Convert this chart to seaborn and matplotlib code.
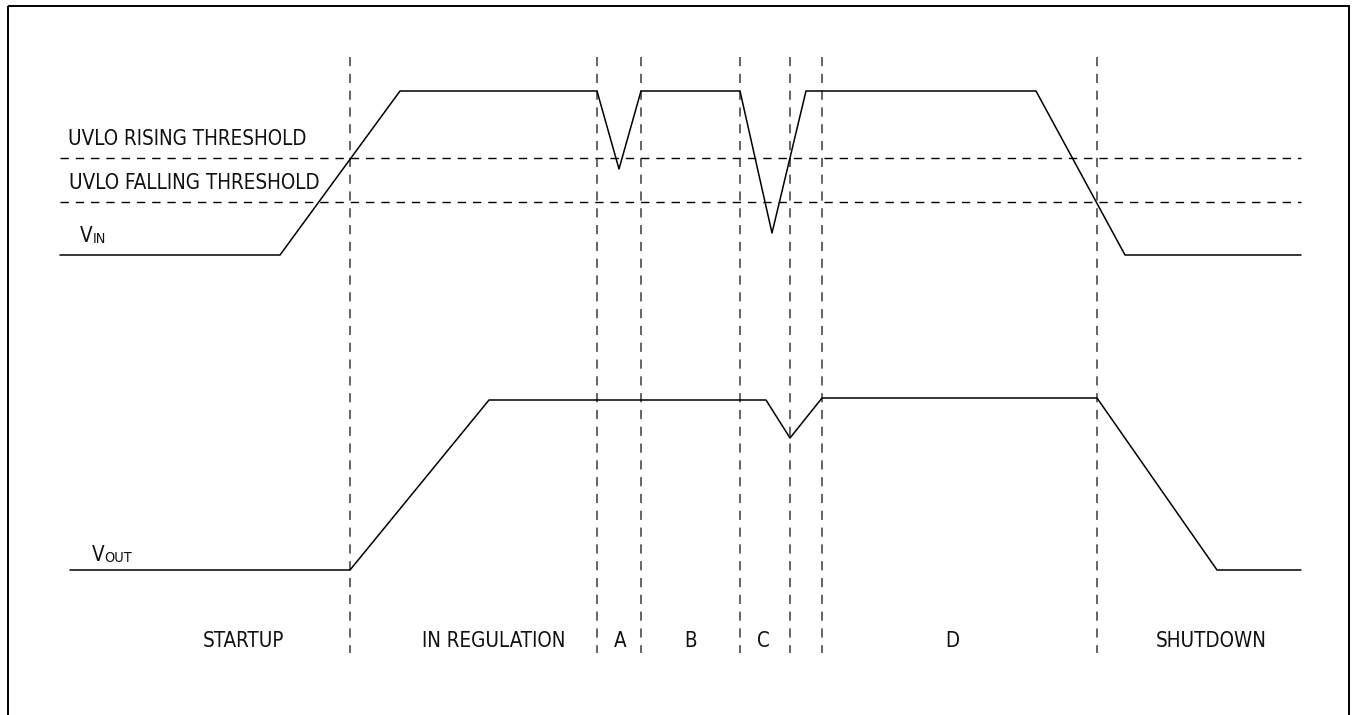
import matplotlib
matplotlib.use("Agg")
import matplotlib.pyplot as plt
from matplotlib.patches import Rectangle
from matplotlib.font_manager import FontProperties, fontManager
import seaborn as sns
import pandas as pd

sns.set_theme(style="white")

# ---- waveform data (time axis in drawing units, level in drawing units; y grows downward) ----
vin_t = [60, 280, 400, 597, 619, 641, 740, 772, 806, 1036, 1125, 1301]
vin_v = [255, 255, 91, 91, 169, 91, 91, 233, 91, 91, 255, 255]

vout_t = [70, 350, 489, 766, 790, 822, 1097, 1217, 1301]
vout_v = [570, 570, 400, 400, 438, 398, 398, 570, 570]

thresholds = [158, 202]                     # UVLO rising, UVLO falling
threshold_names = ["UVLO RISING THRESHOLD", "UVLO FALLING THRESHOLD"]
boundaries = [350, 597, 641, 740, 790, 822, 1097]   # region boundaries (time)
region_names = ["STARTUP", "IN REGULATION", "A", "B", "C", "D", "SHUTDOWN"]
region_centers = [243, 494, 620, 690, 763, 952, 1211]

# ---- pick a narrow sans font if one is installed ----
def pick_font():
    cands = []
    for f in fontManager.ttflist:
        n = f.name.lower()
        fn = f.fname.lower()
        if f.style != "normal" or f.weight not in (400, "normal", "regular"):
            continue
        if "mono" in n or "serif" in n and "sans" not in n:
            continue
        narrow = ("narrow" in n or "condensed" in n or "narrow" in fn or "condensed" in fn
                  or str(f.stretch) in ("condensed", "semi-condensed", "75", "87"))
        if narrow:
            score = 0 if "liberation" in n else (1 if "dejavu" in n else 2)
            cands.append((score, f.fname))
    if cands:
        cands.sort()
        return FontProperties(fname=cands[0][1])
    return FontProperties(family="Liberation Sans")

FP = pick_font()
plt.rcParams["font.family"] = [FP.get_name(), "DejaVu Sans"]

W, H = 1353, 715
fig = plt.figure(figsize=(W / 100, H / 100), dpi=100)
ax = fig.add_axes([0, 0, 1, 1])

# size the font so the threshold label spans its reference width (~240 px)
renderer = fig.canvas.get_renderer()
probe = fig.text(0, 0, threshold_names[0], fontproperties=FP, fontsize=10)
wpx = probe.get_window_extent(renderer).width
probe.remove()
FS = min(16.5, 10 * 240.0 / wpx)

def fp(size):
    p = FP.copy()
    p.set_size(size)
    return p

# border frame (bottom edge lies outside the image)
ax.add_patch(Rectangle((8, 6), 1341, 740, fill=False, edgecolor="black", lw=1.4))

# threshold lines and region boundaries
ax.hlines(thresholds, 60, 1301, colors="black", lw=1.0, linestyles=(0, (6, 5)))
ax.vlines(boundaries, 57, 653, colors="#3a3a3a", lw=1.1, linestyles=(0, (6, 5)))

df_in = pd.DataFrame({"t": vin_t, "v": vin_v})
df_out = pd.DataFrame({"t": vout_t, "v": vout_v})
sns.lineplot(data=df_in, x="t", y="v", sort=False, estimator=None, color="black", lw=1.1, ax=ax)
sns.lineplot(data=df_out, x="t", y="v", sort=False, estimator=None, color="black", lw=1.1, ax=ax)
ax.set_xlim(0, W)
ax.set_ylim(H, 0)
ax.axis("off")

TC = "#111111"
ax.text(68, 145, threshold_names[0], fontproperties=fp(FS), ha="left", va="baseline", color=TC)
ax.text(69, 189, threshold_names[1], fontproperties=fp(FS), ha="left", va="baseline", color=TC)

def sub_label(x, y, main, sub):
    t = ax.text(x, y, main, fontproperties=fp(FS), ha="left", va="baseline", color=TC)
    ax.annotate(sub, xy=(1.0, 0.0), xycoords=t, xytext=(0.0, 0.3), textcoords="offset points",
                fontproperties=fp(FS * 0.7), ha="left", va="bottom", color=TC)

sub_label(80, 242, "V", "IN")
sub_label(92, 561, "V", "OUT")

for name, cx in zip(region_names, region_centers):
    ax.text(cx, 647, name, fontproperties=fp(FS), ha="center", va="baseline", color=TC)

fig.savefig("out.png", dpi=100, facecolor="white")
